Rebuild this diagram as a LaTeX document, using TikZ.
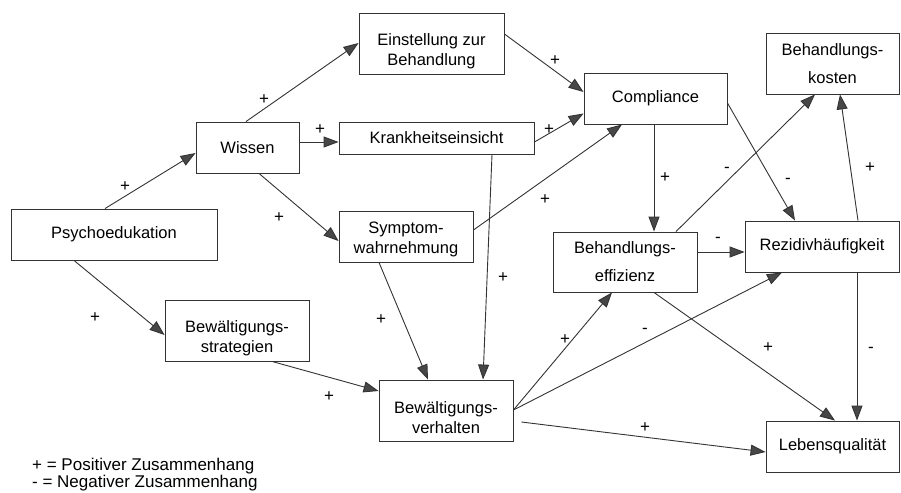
\documentclass[tikz,border=0pt]{standalone}
\usepackage{fontspec}
\setmainfont{Liberation Sans}
\usetikzlibrary{arrows.meta,calc}

% two lines, ink moved down inside the box
\newcommand{\lowtext}[2]{\raisebox{-#1}[\height][\depth]{\begin{tabular}{@{}c@{}}#2\end{tabular}}}

\tikzset{
  box/.style={draw=black!80, line width=0.9pt, fill=white, align=center,
    inner sep=0pt, font=\fontsize{16.5}{20}\selectfont},
  conn/.style={draw=black!80, line width=0.9pt,
    -{Triangle[length=15pt,width=11pt,fill=black!72]}},
  sgn/.style={inner sep=0pt, font=\fontsize{17}{20}\selectfont},
  legend/.style={inner sep=0pt, anchor=west, font=\fontsize{17}{20}\selectfont},
}

\begin{document}
\begin{tikzpicture}[x=1pt,y=-1pt]

    \useasboundingbox (0,0) rectangle (901,492);

    % boxes
    \node[box, minimum width=206pt, minimum height=51pt] (psy) at (114,234.5) {\raisebox{-2pt}{Psychoedukation}};

    \node[box, minimum width=103pt, minimum height=51pt] (wis) at (247.5,147.5) {Wissen};

    \node[box, minimum width=145pt, minimum height=61pt] (ein) at (431.5,43.5) {\lowtext{8pt}{Einstellung zur\\Behandlung}};

    \node[box, minimum width=195pt, minimum height=32pt] (kra) at (436.5,138) {Krankheitseinsicht};

    \node[box, minimum width=134pt, minimum height=51pt] (sym) at (406,236.5) {\lowtext{3pt}{Symptom-\\wahrnehmung}};

    \node[box, minimum width=144pt, minimum height=61pt] (str) at (237,330.5) {\lowtext{8pt}{Bewältigungs-\\strategien}};

    \node[box, minimum width=134pt, minimum height=61pt] (ver) at (446,410.5) {\lowtext{9pt}{Bewältigungs-\\verhalten}};

    \node[box, minimum width=143pt, minimum height=51pt] (com) at (655.5,98.5) {Compliance};

    \node[box, minimum width=144pt, minimum height=60pt] (eff) at (625,262) {Behandlungs-\\[8pt]effizienz};

    \node[box, minimum width=133pt, minimum height=61pt] (kos) at (832.5,63.5) {\lowtext{2pt}{Behandlungs-\\[8pt]kosten}};

    \node[box, minimum width=154pt, minimum height=51pt] (rez) at (822,246.5) {Rezidivhäufigkeit};

    \node[box, minimum width=133pt, minimum height=51pt] (leb) at (832.5,446.5) {Lebensqualität};


    % connectors
    \draw[conn] ($(psy.north)+(-9,0)$) -- ($(wis.west)+(0,5.5)$);

    \draw[conn] ($(psy.south)+(-40,0)$) -- ($(str.west)+(0,4.5)$);

    \draw[conn] ($(wis.north)+(-1.5,0)$) -- ($(ein.west)+(0,-0.5)$);

    \draw[conn] ($(wis.east)+(0,-5.5)$) -- ($(kra.west)+(0,4)$);

    \draw[conn] ($(wis.south)+(11.5,0)$) -- ($(sym.west)+(0,4.5)$);

    \draw[conn] ($(ein.east)+(0,-9.5)$) -- ($(com.west)+(0,-6.5)$);

    \draw[conn] ($(kra.east)+(0,4)$) -- ($(com.west)+(0,15)$);

    \draw[conn] ($(sym.east)+(0,-6.5)$) -- ($(com.south)+(-33.5,0)$);

    \draw[conn] ($(kra.south)+(55.5,0)$) -- ($(ver.north)+(37,0)$);

    \draw[conn] ($(sym.south)+(-27,0)$) -- ($(ver.north)+(-18,0)$);

    \draw[conn] ($(str.south)+(35,0)$) -- ($(ver.west)+(0,-19.5)$);

    \draw[conn] ($(com.south)+(-1.5,0)$) -- ($(eff.north)+(29,0)$);

    \draw[conn] ($(com.east)+(0,4.5)$) -- ($(rez.north)+(-27,0)$);

    \draw[conn] ($(eff.north)+(51,0)$) -- ($(kos.south)+(-17.5,0)$);

    \draw[conn] ($(eff.east)+(0,-10)$) -- ($(rez.west)+(0,5.5)$);

    \draw[conn] ($(rez.north)+(36,0)$) -- ($(kos.south)+(7.5,0)$);

    \draw[conn] ($(ver.east)+(0,-0.5)$) -- ($(eff.south)+(-13,0)$);

    \draw[conn] ($(ver.east)+(0,-0.5)$) -- ($(rez.south)+(-40,0)$);

    \draw[conn] ($(ver.east)+(8,11.5)$) -- ($(leb.west)+(0,5.5)$);

    \draw[conn] ($(eff.south)+(29,0)$) -- ($(leb.north)+(2.5,0)$);

    \draw[conn] ($(rez.south)+(35,0)$) -- ($(leb.north)+(24.5,0)$);


    % signs
    \node[sgn] (s1) at (125,187) {+};

    \node[sgn] (s2) at (95,318) {+};

    \node[sgn] (s3) at (264,100) {+};

    \node[sgn] (s4) at (320,130) {+};

    \node[sgn] (s5) at (279,218) {+};

    \node[sgn] (s6) at (555,61) {+};

    \node[sgn] (s7) at (549,130) {+};

    \node[sgn] (s8) at (545,200) {+};

    \node[sgn] (s9) at (503,278) {+};

    \node[sgn] (s10) at (381,320) {+};

    \node[sgn] (s11) at (329,397) {+};

    \node[sgn] (s12) at (665,178) {+};

    \node[sgn] (s13) at (788,181) {-};

    \node[sgn] (s14) at (727,170) {-};

    \node[sgn] (s15) at (718,240) {-};

    \node[sgn] (s16) at (870,168) {+};

    \node[sgn] (s17) at (565,340) {+};

    \node[sgn] (s18) at (645,331) {-};

    \node[sgn] (s19) at (645,428) {+};

    \node[sgn] (s20) at (768,348) {+};

    \node[sgn] (s21) at (871,350) {-};


    % legend
    \node[legend] (leg1) at (32,466) {+ = Positiver Zusammenhang};

    \node[legend] (leg2) at (32,483.5) {- = Negativer Zusammenhang};

\end{tikzpicture}
\end{document}
